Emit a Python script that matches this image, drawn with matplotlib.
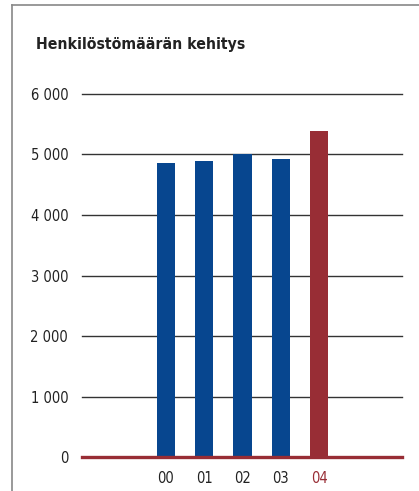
import matplotlib.pyplot as plt
from matplotlib.lines import Line2D

years = ["00", "01", "02", "03", "04"]
staff = [4860, 4890, 5010, 4920, 5390]
ticks = [0, 1000, 2000, 3000, 4000, 5000, 6000]
tick_labels = ["0", "1 000", "2 000", "3 000", "4 000", "5 000", "6 000"]

blue = "#07468f"
red = "#982d35"

plt.rcParams["font.family"] = ["DejaVu Sans"]
plt.rcParams["font.stretch"] = "condensed"

fig = plt.figure(figsize=(4.19, 4.91), dpi=100)
ax = fig.add_axes([0.196, 0.0692, 0.7627, 0.7394])

colors = [blue] * 4 + [red]
ax.bar(range(len(years)), staff, width=0.48, color=colors, zorder=3)
ax.set_xlim(-2.19, 6.16)
ax.set_ylim(0, 6000)

for t in ticks[1:]:
    ax.axhline(t, color="#333333", lw=1.0, zorder=1, clip_on=False)
ax.axhline(0, color=red, lw=2.4, zorder=4, clip_on=False)

ax.set_yticks(ticks)
ax.set_yticklabels(tick_labels, fontsize=10.5, color="#222222")
ax.set_xticks(range(len(years)))
ax.set_xticklabels(years, fontsize=10.5)
for lbl, c in zip(ax.get_xticklabels(), ["#222222"] * 4 + [red]):
    lbl.set_color(c)
ax.tick_params(length=0, axis="y", pad=10)
ax.tick_params(length=0, axis="x", pad=10)
for s in ax.spines.values():
    s.set_visible(False)

fig.text(36 / 419, 1 - 45 / 491, "Henkilöstömäärän kehitys", fontsize=11.3,
         fontweight="bold", color="#222222", va="center", ha="left")

# frame lines on top and left
fig.add_artist(Line2D([12 / 419, 12 / 419], [0, 1 - 5 / 491], color="#888888", lw=1.2))
fig.add_artist(Line2D([12 / 419, 1], [1 - 5 / 491, 1 - 5 / 491], color="#888888", lw=1.2))

fig.savefig("out.png", dpi=100)
